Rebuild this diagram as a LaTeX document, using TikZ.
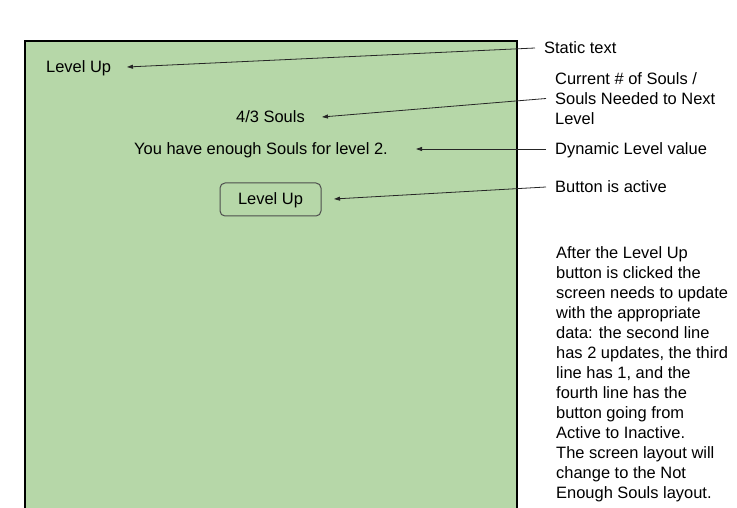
\documentclass[tikz,border=0pt]{standalone}
\usepackage{fontspec}
\setmainfont{Liberation Sans}
\usetikzlibrary{arrows.meta}
\definecolor{screengreen}{HTML}{B6D7A8}
\definecolor{btnborder}{HTML}{4D4D4D}
\tikzset{
  txt/.style={inner sep=0pt, font=\fontsize{16.45}{20}\selectfont, anchor=base west},
  arr/.style={draw=black!85, line width=0.8pt, -{Triangle[length=6pt,width=4pt]}},
  screen/.style={draw=black, line width=2pt, fill=screengreen},
  btn/.style={draw=btnborder, line width=1pt, rounded corners=5pt, fill=screengreen}
}
\begin{document}
\begin{tikzpicture}[x=1pt,y=-1pt]
\useasboundingbox (0,0) rectangle (737,508);
\clip (0,0) rectangle (737,508);
\fill[white] (0,0) rectangle (737,508);
% screen
\draw[screen] (24.5,41) rectangle (517,530);
% screen content
\node[txt] (lvl) at (46,72.5) {Level Up};
\node[txt] (souls) at (236,122.5) {4/3 Souls};
\node[txt] (enough) at (134,154.5) {You have enough Souls for level 2.};
\draw[btn] (220,183) rectangle (321,216);
\node[txt, anchor=base] (btntext) at (270.5,205) {Level Up};
% annotations
\node[txt] (static) at (544,54) {Static text};
\node[txt, align=left, anchor=base west] (current) at (555,124.5) {Current \# of Souls /\\Souls Needed to Next\\Level};
\node[txt] (dynamic) at (555,154.5) {Dynamic Level value};
\node[txt] (active) at (555,193) {Button is active};
\node[txt, align=left, anchor=base west] (note) at (556,498) {After the Level Up\\button is clicked the\\screen needs to update\\with the appropriate\\data: the second line\\has 2 updates, the third\\line has 1, and the\\fourth line has the\\button going from\\Active to Inactive.\\The screen layout will\\change to the Not\\Enough Souls layout.};
% connector endpoints
\coordinate (s1) at (535,48);   \coordinate (t1) at (127,67);
\coordinate (s2) at (546,98.5); \coordinate (t2) at (322,117);
\coordinate (s3) at (546,149);  \coordinate (t3) at (416,149);
\coordinate (s4) at (546,187);  \coordinate (t4) at (334,199);
\draw[arr] (s1) -- (t1);
\draw[arr] (s2) -- (t2);
\draw[arr] (s3) -- (t3);
\draw[arr] (s4) -- (t4);
\end{tikzpicture}
\end{document}
